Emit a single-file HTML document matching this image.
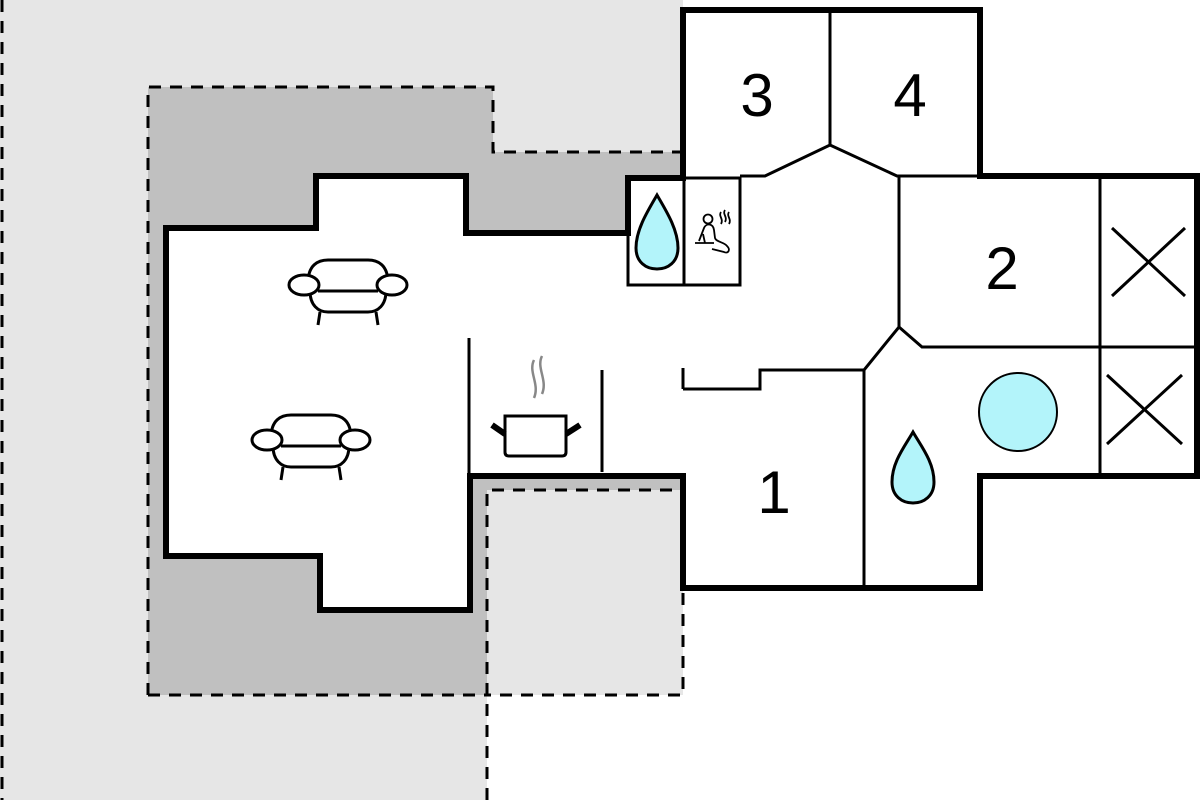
<!DOCTYPE html>
<html><head><style>html,body{margin:0;padding:0;background:#fff}svg{display:block}</style></head>
<body>
<svg width="1200" height="800" viewBox="0 0 1200 800" xmlns="http://www.w3.org/2000/svg">
<polygon points="0,0 683,0 683,695 487,695 487,800 0,800" fill="#e6e6e6"/>
<polygon points="148,87 493,87 493,152 683,152 683,490 487,490 487,695 148,695" fill="#c0c0c0"/>
<g stroke="#000" stroke-width="3" fill="none" stroke-dasharray="12,9">
<line x1="2" y1="0" x2="2" y2="800"/>
<polyline points="148,695 148,87 493,87 493,152 683,152"/>
<polyline points="148,695 487,695"/>
<polyline points="487,800 487,490 683,490 683,695 487,695"/>
</g>
<polygon points="683,10 980,10 980,176 1197,176 1197,476 980,476 980,588 683,588 683,476 470,476 470,610 320,610 320,556 166,556 166,228 316,228 316,176 466,176 466,233 628,233 628,178 683,178" fill="#fff" stroke="#000" stroke-width="6"/>
<g stroke="#000" stroke-width="3" fill="none">
<rect x="628" y="178" width="112" height="107" stroke-width="3"/>
<line x1="684" y1="178" x2="684" y2="285"/>
<line x1="830" y1="10" x2="830" y2="145"/>
<polyline points="740,176 765,176 830,145 897,176 980,176"/>
<line x1="899" y1="176" x2="899" y2="327"/>
<polyline points="1100,347 922,347 899,327 864,370 864,588"/>
<polyline points="683,389 760,389 760,370 864,370"/>
<line x1="1100" y1="176" x2="1100" y2="476"/>
<line x1="1100" y1="347" x2="1197" y2="347"/>
<line x1="469" y1="338" x2="469" y2="476"/>
<line x1="602" y1="370" x2="602" y2="472"/>
<line x1="683" y1="368" x2="683" y2="389"/>
<line x1="1112" y1="228" x2="1185" y2="296"/><line x1="1185" y1="228" x2="1112" y2="296"/>
<line x1="1107" y1="375" x2="1182" y2="444"/><line x1="1182" y1="375" x2="1107" y2="444"/>
</g>
<line x1="628" y1="178" x2="628" y2="233" stroke="#000" stroke-width="6"/>
<circle cx="1018" cy="412" r="39" fill="#b3f4fa" stroke="#000" stroke-width="2"/>
<path d="M657,195 C647,212 636,230 636,248 C636,262 646,269 657,269 C668,269 678,262 678,248 C678,230 667,212 657,195Z" fill="#b3f4fa" stroke="#000" stroke-width="3"/>
<path d="M913,432 C905,446 892,462 892,482 C892,496 902,503 913,503 C924,503 934,496 934,482 C934,462 921,446 913,432Z" fill="#b3f4fa" stroke="#000" stroke-width="3"/>
<g stroke="#000" stroke-width="1.8" fill="none">
<circle cx="708" cy="219" r="4.5"/>
<path d="M699,241 L704,228 C706,223 713,223 714,230 L715,238 C716,242 724,242 727,246 C731,250 728,254 724,252 L712,249"/>
<line x1="695" y1="243" x2="714" y2="243"/>
<line x1="703" y1="234" x2="705" y2="243"/>
<path d="M721,212 c-3,4 3,7 0,12 M725,210 c-3,4 3,7 0,12 M729,212 c-3,4 3,7 0,12"/>
</g>
<g stroke="#000" stroke-width="3" fill="#fff">
<g transform="translate(348,285)">
<path d="M-40,-2 C-40,-20 -30,-25 -20,-25 H20 C30,-25 40,-20 40,-2"/>
<path d="M-38,6 C-38,20 -30,27 -20,27 H20 C30,27 38,20 38,6" />
<line x1="-30" y1="6" x2="30" y2="6"/>
<ellipse cx="-44" cy="0" rx="15" ry="10"/><ellipse cx="44" cy="0" rx="15" ry="10"/>
<line x1="-28" y1="27" x2="-30" y2="40"/><line x1="28" y1="27" x2="30" y2="40"/>
</g>
<g transform="translate(311,440)">
<path d="M-40,-2 C-40,-20 -30,-25 -20,-25 H20 C30,-25 40,-20 40,-2"/>
<path d="M-38,6 C-38,20 -30,27 -20,27 H20 C30,27 38,20 38,6" />
<line x1="-30" y1="6" x2="30" y2="6"/>
<ellipse cx="-44" cy="0" rx="15" ry="10"/><ellipse cx="44" cy="0" rx="15" ry="10"/>
<line x1="-28" y1="27" x2="-30" y2="40"/><line x1="28" y1="27" x2="30" y2="40"/>
</g>
</g>
<path d="M505,416 H566 V452 Q566,456 562,456 H509 Q505,456 505,452 Z" fill="#fff" stroke="#000" stroke-width="3"/>
<line x1="492" y1="425" x2="505" y2="434" stroke="#000" stroke-width="6"/>
<line x1="580" y1="425" x2="566" y2="434" stroke="#000" stroke-width="6"/>
<path d="M534,360 c-6,12 6,24 0,38 M542,356 c-6,12 6,24 0,38" stroke="#888" stroke-width="2.5" fill="none"/>
<g font-family="Liberation Sans, sans-serif" font-size="60" text-anchor="middle" fill="#000">
<text x="757" y="116">3</text>
<text x="910" y="116">4</text>
<text x="1002" y="289">2</text>
<text x="774" y="513">1</text>
</g>
</svg>
</body></html>
